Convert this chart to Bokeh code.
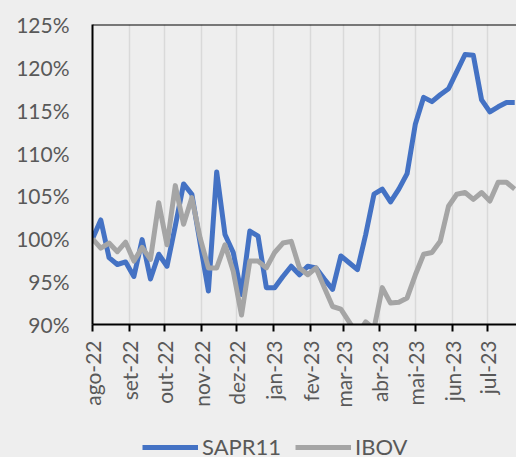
import math
import pandas as pd
from bokeh.plotting import figure
from bokeh.layouts import column
from bokeh.models import (FixedTicker, PrintfTickFormatter, Legend, LegendItem,
                          Span, Range1d)
from bokeh.embed import file_html
from bokeh.resources import INLINE

# ---- data ----
dates = pd.date_range("2022-08-01", periods=52, freq="7D")

sapr11 = [100.0, 102.2, 97.8, 97.0, 97.3, 95.6, 99.9, 95.3, 98.2, 96.8,
          101.5, 106.4, 105.2, 99.5, 93.9, 107.8, 100.5, 98.4, 93.5, 100.9,
          100.3, 94.3, 94.3, 95.6, 96.8, 95.8, 96.8, 96.6, 95.3, 94.1,
          98.0, 97.2, 96.4, 100.5, 105.2, 105.8, 104.3, 105.8, 107.6, 113.4,
          116.5, 116.0, 116.8, 117.5, 119.5, 121.5, 121.4, 116.2, 114.8, 115.4,
          115.9, 115.9]

ibov = [100.0, 98.9, 99.5, 98.5, 99.6, 97.4, 99.0, 97.6, 104.2, 99.3,
        106.2, 101.7, 104.8, 100.1, 96.6, 96.6, 99.3, 96.2, 91.1, 97.4,
        97.4, 96.6, 98.4, 99.5, 99.7, 96.6, 95.8, 96.6, 94.3, 92.1,
        91.8, 90.3, 88.8, 90.3, 89.5, 94.3, 92.5, 92.6, 93.1, 95.8,
        98.2, 98.4, 99.7, 103.8, 105.2, 105.4, 104.6, 105.4, 104.4, 106.6,
        106.6, 105.8]

month_starts = ["2022-08-01", "2022-09-01", "2022-10-01", "2022-11-01",
                "2022-12-01", "2023-01-01", "2023-02-01", "2023-03-01",
                "2023-04-01", "2023-05-01", "2023-06-01", "2023-07-01"]
month_labels = ["ago-22", "set-22", "out-22", "nov-22", "dez-22", "jan-23",
                "fev-23", "mar-23", "abr-23", "mai-23", "jun-23", "jul-23"]
y_ticks = [90, 95, 100, 105, 110, 115, 120, 125]
series_names = ["SAPR11", "IBOV"]

BG = "#EEEEEE"
TXT = "#595959"
FONT = "Lato"
BLUE = "#4472C4"
GRAY = "#A5A5A5"

x_start = pd.Timestamp("2022-08-01")
x_end = pd.Timestamp("2023-07-25 12:00")

p = figure(width=516, height=420, x_axis_type="datetime",
           output_backend="svg", toolbar_location=None,
           x_range=Range1d(x_start, x_end), y_range=Range1d(90, 125),
           min_border_left=92, min_border_top=24, min_border_right=0,
           min_border_bottom=96)
p.background_fill_color = BG
p.border_fill_color = BG
p.outline_line_color = None

p.line(dates, sapr11, line_color=BLUE, line_width=5, line_join="round")
p.line(dates, ibov, line_color=GRAY, line_width=5, line_join="round")

tick_ms = [pd.Timestamp(d).value / 1e6 for d in month_starts]
p.xaxis.ticker = FixedTicker(ticks=tick_ms)
p.xaxis.major_label_overrides = {t: l for t, l in zip(tick_ms, month_labels)}
p.xaxis.major_label_orientation = math.pi / 2
p.xaxis.major_tick_out = 7
p.xaxis.major_tick_in = 0
p.xaxis.major_tick_line_color = "black"
p.xaxis.major_tick_line_width = 2
p.xaxis.minor_tick_line_color = None
p.xaxis.axis_line_color = "black"
p.xaxis.axis_line_width = 2
p.xaxis.major_label_standoff = 9

p.yaxis.ticker = FixedTicker(ticks=y_ticks)
p.yaxis.formatter = PrintfTickFormatter(format="%d%%")
p.yaxis.major_tick_line_color = None
p.yaxis.minor_tick_line_color = None
p.yaxis.major_tick_out = 0
p.yaxis.major_tick_in = 0
p.yaxis.axis_line_color = "black"
p.yaxis.axis_line_width = 2
p.yaxis.major_label_standoff = 23

for ax in (p.xaxis, p.yaxis):
    ax.major_label_text_font = FONT
    ax.major_label_text_font_size = "21px"
    ax.major_label_text_color = TXT

p.xgrid.grid_line_color = "#D9D9D9"
p.xgrid.grid_line_width = 1.5
p.ygrid.grid_line_color = None

top = Span(location=125, dimension="width", line_color="black", line_width=2)
p.add_layout(top)

# legend strip (separate small figure below the chart)
lf = figure(width=516, height=37, output_backend="svg", toolbar_location=None,
            x_axis_type=None, y_axis_type=None,
            x_range=Range1d(0, 1), y_range=Range1d(0, 1),
            min_border=0)
lf.background_fill_color = BG
lf.border_fill_color = BG
lf.outline_line_color = None
lf.grid.grid_line_color = None
# swatch renderers for the legend (kept outside the visible range)
g1 = lf.line([5, 6], [5, 6], line_color=BLUE, line_width=5)
g2 = lf.line([5, 6], [5, 6], line_color=GRAY, line_width=5)

legend = Legend(items=[LegendItem(label=series_names[0], renderers=[g1]),
                       LegendItem(label=series_names[1], renderers=[g2])],
                orientation="horizontal", location=(50, -3),
                background_fill_alpha=0, border_line_color=None,
                label_text_font=FONT, label_text_font_size="22px",
                label_text_color=TXT, glyph_width=56, glyph_height=20,
                label_standoff=4, spacing=14, padding=0, margin=0)
lf.add_layout(legend, "center")

layout = column(p, lf, spacing=0)

html = file_html(layout, INLINE)
html = html.replace("</head>", "<style>html, body {background:#EEEEEE;}</style></head>", 1)
open("out.html", "w").write(html)
